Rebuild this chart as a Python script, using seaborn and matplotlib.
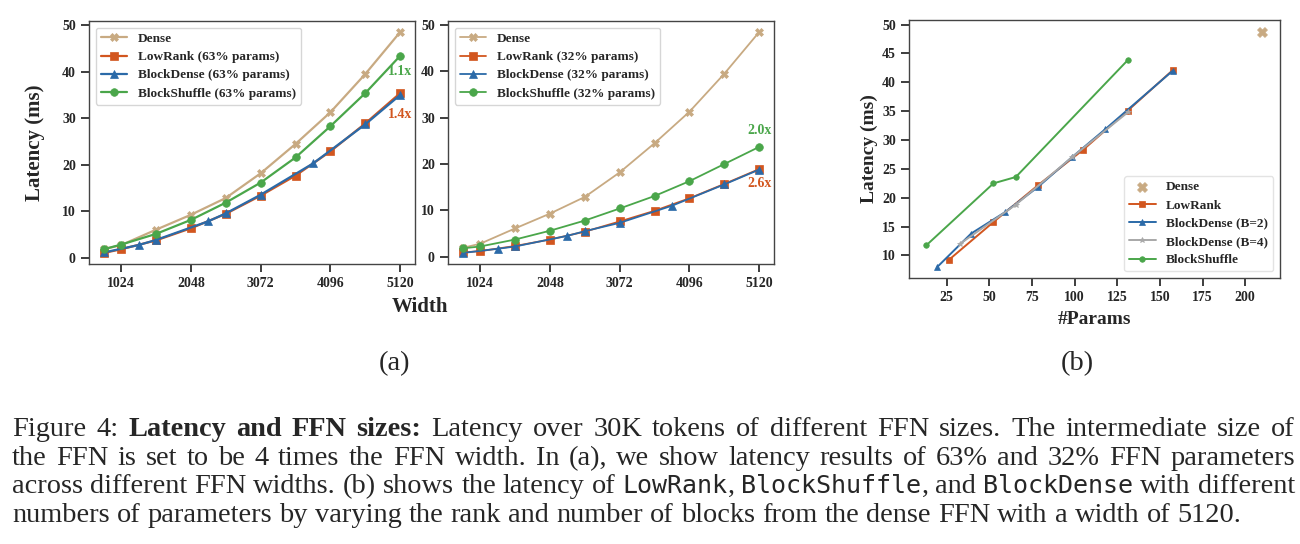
import matplotlib
matplotlib.use('Agg')
import matplotlib.pyplot as plt
from matplotlib.ticker import MultipleLocator
import seaborn as sns

# (a) latency vs FFN width
widths = [768, 1024, 1536, 2048, 2560, 3072, 3584, 4096, 4608, 5120]
bd_widths = [768, 1280, 1536, 2304, 2560, 3072, 3840, 4608, 5120]
dense_ms = [1.9, 2.8, 6.1, 9.3, 12.9, 18.2, 24.5, 31.3, 39.5, 48.5]

lowrank_63 = [1.1, 1.9, 3.8, 6.4, 9.5, 13.4, 17.7, 22.9, 28.9, 35.4]
blockdense_63 = [1.2, 2.8, 3.9, 7.9, 9.6, 13.6, 20.3, 28.7, 35.0]
blockshuffle_63 = [1.9, 2.9, 5.2, 8.2, 11.9, 16.2, 21.6, 28.3, 35.4, 43.4]

lowrank_32 = [0.9, 1.2, 2.3, 3.7, 5.4, 7.6, 9.9, 12.6, 15.7, 18.9]
blockdense_32 = [0.8, 1.7, 2.2, 4.5, 5.5, 7.3, 11.0, 15.6, 18.8]
blockshuffle_32 = [1.8, 2.2, 3.7, 5.6, 7.8, 10.4, 13.1, 16.3, 20.0, 23.7]

width_ticks = [1024, 2048, 3072, 4096, 5120]

# (b) latency vs #params
dense_params = [210.0]
dense_lat = [48.7]
lowrank_params = [26.2, 52.5, 78.7, 105.0, 131.2, 157.5]
lowrank_lat = [9.2, 15.8, 22.2, 28.3, 35.1, 42.1]
bd2_params = [19.7, 39.4, 59.0, 78.7, 98.4, 118.1, 157.5]
bd2_lat = [8.05, 13.8, 17.45, 21.9, 27.0, 31.9, 42.0]
bd4_params = [32.8, 65.6, 98.4, 131.2]
bd4_lat = [12.0, 18.8, 27.0, 34.8]
bs_params = [13.1, 52.5, 65.6, 131.2]
bs_lat = [11.75, 22.5, 23.6, 43.85]

C_DENSE = "#c8aa82"
C_LOW = "#d2561f"
C_BD = "#2b6aa8"
C_BD4 = "#a8a8a8"
C_BS = "#4aa64a"

sns.set_theme(style="ticks")
plt.rcParams['font.family'] = ['Liberation Serif', 'DejaVu Serif']
plt.rcParams['font.weight'] = 'bold'
plt.rcParams['axes.labelweight'] = 'bold'
plt.rcParams['axes.edgecolor'] = '#444444'
plt.rcParams['axes.linewidth'] = 1.0
plt.rcParams['xtick.labelsize'] = 10
plt.rcParams['ytick.labelsize'] = 10

W, H = 1300, 544
fig = plt.figure(figsize=(13, 5.44), dpi=100)


def px_axes(x0, y0, x1, y1):
    return fig.add_axes([x0 / W, 1 - y1 / H, (x1 - x0) / W, (y1 - y0) / H])


def line(ax, x, y, c, m, ms, lw, label):
    sns.lineplot(x=x, y=y, ax=ax, color=c, marker=m, markersize=ms, linewidth=lw,
                 markeredgecolor=c, markeredgewidth=0.5, label=label)


def width_panel(ax, pct, low, bd, bs, lw):
    line(ax, widths, dense_ms, C_DENSE, 'X', 6, lw, 'Dense')
    line(ax, widths, low, C_LOW, 's', 5.5, lw, f'LowRank ({pct}% params)')
    line(ax, bd_widths, bd, C_BD, '^', 5.5, lw, f'BlockDense ({pct}% params)')
    line(ax, widths, bs, C_BS, 'o', 5.5, lw, f'BlockShuffle ({pct}% params)')
    ax.set_xticks(width_ticks)
    ax.yaxis.set_major_locator(MultipleLocator(10))
    ax.set_xlabel('')
    ax.legend(loc='upper left', prop={'weight': 'bold', 'size': 9.5},
              edgecolor='#cccccc', labelspacing=0.45)
    for t in ax.get_xticklabels() + ax.get_yticklabels():
        t.set_fontweight('bold')


def speedup(ax, series, c, dy):
    ax.annotate(f"{dense_ms[-1] / series[-1]:.1f}x", (widths[-1], series[-1]),
                xytext=(0, dy), textcoords='offset pixels', ha='center', va='center',
                color=c, fontsize=10, fontweight='bold')


ax1 = px_axes(89, 21, 415, 264)
width_panel(ax1, 63, lowrank_63, blockdense_63, blockshuffle_63, 1.6)
speedup(ax1, blockshuffle_63, C_BS, -16)
speedup(ax1, lowrank_63, C_LOW, -21)
ax1.set_ylabel('Latency (ms)', fontsize=15, labelpad=12)

ax2 = px_axes(448, 21, 774, 264)
width_panel(ax2, 32, lowrank_32, blockdense_32, blockshuffle_32, 1.3)
speedup(ax2, blockshuffle_32, C_BS, 16)
speedup(ax2, lowrank_32, C_LOW, -14)

fig.text(420 / W, 1 - 312 / H, 'Width', ha='center', va='baseline', fontsize=15, fontweight='bold')

ax3 = px_axes(909, 20, 1280, 278)
sns.scatterplot(x=dense_params, y=dense_lat, ax=ax3, marker='X', s=50, color=C_DENSE,
                edgecolor=C_DENSE, label='Dense')
line(ax3, lowrank_params, lowrank_lat, C_LOW, 's', 4, 1.4, 'LowRank')
line(ax3, bd2_params, bd2_lat, C_BD, '^', 4, 1.4, 'BlockDense (B=2)')
line(ax3, bd4_params, bd4_lat, C_BD4, '*', 4, 1.4, 'BlockDense (B=4)')
line(ax3, bs_params, bs_lat, C_BS, 'o', 4, 1.4, 'BlockShuffle')
ax3.xaxis.set_major_locator(MultipleLocator(25))
ax3.yaxis.set_major_locator(MultipleLocator(5))
ax3.set_xlim(3, 220.4)
ax3.set_ylim(6.1, 50.8)
ax3.set_xlabel('#Params', fontsize=14, labelpad=5)
ax3.set_ylabel('Latency (ms)', fontsize=14, labelpad=3)
ax3.legend(loc='lower right', prop={'weight': 'bold', 'size': 9.5},
           edgecolor='#dddddd', labelspacing=0.45)
for t in ax3.get_xticklabels() + ax3.get_yticklabels():
    t.set_fontweight('bold')

# sub-figure tags and caption
fig.text(395 / W, 1 - 370 / H, '(a)', ha='center', va='baseline', fontsize=20.5, fontweight='normal')
fig.text(1077 / W, 1 - 370 / H, '(b)', ha='center', va='baseline', fontsize=20.5, fontweight='normal')

REG = {'fontsize': 20.4, 'fontweight': 'normal', 'family': ['Liberation Serif']}
BOLD = {'fontsize': 20.4, 'fontweight': 'bold', 'family': ['Liberation Serif']}
MONO = {'fontsize': 18, 'fontweight': 'normal', 'family': ['DejaVu Sans Mono']}

caption = [
    ([("Figure 4: ", REG), ("Latency and FFN sizes:", BOLD),
      (" Latency over 30K tokens of different FFN sizes.  The intermediate size of", REG)], True),
    ([("the FFN is set to be 4 times the FFN width.  In (a), we show latency results of 63% and 32% FFN parameters", REG)], True),
    ([("across different FFN widths. (b) shows the latency of ", REG), ("LowRank", MONO), (", ", REG),
      ("BlockShuffle", MONO), (", and ", REG), ("BlockDense", MONO), (" with different", REG)], True),
    ([("numbers of parameters by varying the rank and number of blocks from the dense FFN with a width of 5120.", REG)], False),
]

renderer = fig.canvas.get_renderer()


def text_w(s, kw):
    t = fig.text(0, 0, s, **kw)
    w = t.get_window_extent(renderer).width
    t.remove()
    return w


space = text_w("a a", REG) - text_w("aa", REG)


def caption_line(segs, base_px, justify, x0=12, x1=1295):
    words = [[]]
    for txt, kw in segs:
        for i, part in enumerate(txt.split(' ')):
            if i > 0 and words[-1]:
                words.append([])
            if part:
                words[-1].append((part, kw))
    words = [w for w in words if w]
    sizes = [[text_w(p, kw) for p, kw in w] for w in words]
    total = sum(sum(s) for s in sizes)
    gap = (x1 - x0 - total) / (len(words) - 1) if justify else space
    x = x0
    for w, s in zip(words, sizes):
        for (p, kw), pw in zip(w, s):
            fig.text(x / W, 1 - base_px / H, p, ha='left', va='baseline', **kw)
            x += pw
        x += gap


for i, (segs, just) in enumerate(caption):
    caption_line(segs, 436.5 + 28.4 * i, just)

fig.savefig('out.png', dpi=100)
